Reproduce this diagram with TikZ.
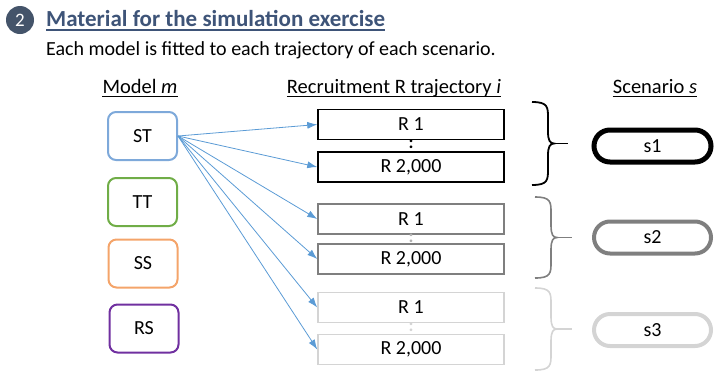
\documentclass[tikz,border=0pt]{standalone}
\usepackage{fontspec}
\setmainfont{Carlito}
\usetikzlibrary{arrows.meta}
\definecolor{titleblue}{HTML}{3E5478}
\definecolor{circfill}{HTML}{44546A}
\definecolor{arrblue}{HTML}{5B9BD5}
\definecolor{stcol}{HTML}{7EA9DA}
\definecolor{ttcol}{HTML}{70AD47}
\definecolor{sscol}{HTML}{F4A46A}
\definecolor{rscol}{HTML}{7030A0}
\definecolor{grpb}{HTML}{7F7F7F}
\definecolor{grpc}{HTML}{D4D4D4}
\newcommand\MyBrace[5]{%
  \pgfmathsetmacro\ym{(#3+#4)/2}%
  \pgfmathsetmacro\xv{#2+16}%
  \draw[#1] (#2,#3) .. controls (\xv,#3) and (\xv,#3+5) .. (\xv,#3+16)
     -- (\xv,\ym-12) .. controls (\xv,\ym-3) and (\xv+2,\ym) .. (\xv+6,\ym)
     .. controls (\xv+2,\ym) and (\xv,\ym+3) .. (\xv,\ym+12)
     -- (\xv,#4-16) .. controls (\xv,#4-5) and (\xv,#4) .. (#2,#4);
  \draw[#1] (\xv+6,\ym) -- (#5,\ym);}
\begin{document}
\begin{tikzpicture}[x=1pt,y=-1pt,
  txt/.style={font=\fontsize{20}{22}\selectfont},
  modelbox/.style={txt,draw,line width=2pt,rounded corners=8pt,minimum width=69pt,minimum height=48pt},
  rbox/.style={txt,draw,line width=1.5pt,minimum width=186pt,minimum height=30pt},
  pill/.style={txt,draw,rounded corners=16pt,minimum width=117pt,minimum height=32pt},
  hdr/.style={inner sep=0pt,anchor=base,font=\fontsize{20.5}{22}\selectfont},
  arr/.style={draw=arrblue,line width=0.8pt,-{Latex[length=10pt,width=7pt]}},
  dots/.style={inner sep=0pt,font=\fontsize{18}{18}\bfseries\selectfont}]
\useasboundingbox (0,0) rectangle (719,370);
% header
\node[circle,fill=circfill,minimum size=28pt,inner sep=0pt,text=white,font=\fontsize{19}{20}\selectfont] (num) at (20,20) {2};
\node[inner sep=0pt,anchor=base west,text=titleblue,font=\fontsize{23}{24}\bfseries\selectfont] (title) at (46,26) {Material for the simulation exercise};
\draw[titleblue,line width=1.4pt] ([yshift=-4pt]title.base west) -- ([yshift=-4pt]title.base east);
\node[inner sep=0pt,anchor=base west,font=\fontsize{20}{22}\selectfont] (sub) at (46,55) {Each model is fitted to each trajectory of each scenario.};
% column headers
\node[hdr] (hm) at (140,93) {Model \textit{m}};
\node[hdr] (hr) at (394,93) {Recruitment R trajectory \textit{i}};
\node[hdr] (hs) at (655,93) {Scenario \textit{s}};
\foreach \h in {hm,hr,hs}{\draw[line width=0.9pt] ([yshift=-3.5pt]\h.base west) -- ([yshift=-3.5pt]\h.base east);}
% models
\node[modelbox,draw=stcol] (st) at (142.5,136) {ST};
\node[modelbox,draw=ttcol] (tt) at (142.5,202) {TT};
\node[modelbox,draw=sscol] (ss) at (143,263.5) {SS};
\node[modelbox,draw=rscol] (rs) at (144,328.5) {RS};
% trajectories
\node[rbox,draw=black] (r1a) at (411,124.5) {R 1};
\node[rbox,draw=black] (r1b) at (411,167) {R 2,000};
\node[dots] (d1) at (411,144) {:};
\node[rbox,draw=grpb] (r2a) at (411,219) {R 1};
\node[rbox,draw=grpb] (r2b) at (411,259) {R 2,000};
\node[dots,text=grpb!60] (d2) at (411,238) {:};
\node[rbox,draw=grpc] (r3a) at (411,307.5) {R 1};
\node[rbox,draw=grpc] (r3b) at (411,349.5) {R 2,000};
\node[dots,text=grpc] (d3) at (411,327) {:};
% arrows
\foreach \t in {r1a,r1b,r2a,r2b,r3a,r3b}{\draw[arr] (st.east) -- (\t.west);}
% braces
\MyBrace{black,line width=1.8pt}{532}{102}{185}{568}
\MyBrace{grpb,line width=1.6pt}{535}{197}{278}{572}
\MyBrace{grpc,line width=1.6pt}{535}{288}{370}{572}
% scenarios
\node[pill,line width=5pt,draw=black] (s1) at (652.5,146) {s1};
\node[pill,line width=4pt,draw=grpb] (s2) at (652.5,237.5) {s2};
\node[pill,line width=4pt,draw=grpc] (s3) at (652.5,330) {s3};
\end{tikzpicture}
\end{document}
